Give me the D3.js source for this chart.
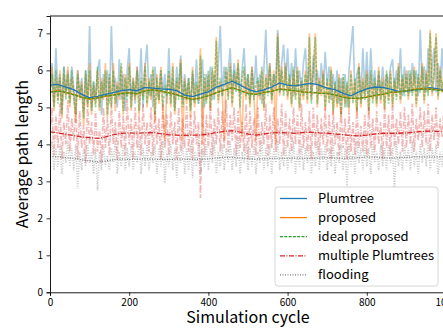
<!DOCTYPE html>
<html>
<head>
<meta charset="utf-8">
<script src="https://cdn.jsdelivr.net/npm/d3@7/dist/d3.min.js"></script>
<style>
  body { margin: 0; background: #fff; }
  text { font-family: "Noto Sans CJK JP", "DejaVu Sans", sans-serif; fill: #000; }
</style>
</head>
<body>
<div id="chart-area"></div>
<script>

// ########################################
// DATA
// ########################################

// raw samples, one every 5 cycles (0 .. 1000)
const rawCycles = d3.range(0, 1001, 5);

const plumtreeRaw = [
  5.6, 6.2, 5.1, 6.6, 5.3, 5.9, 4.9, 6.1, 5.4, 6.0,
  5.2, 6.1, 5.5, 5.0, 6.0, 5.3, 5.8, 4.9, 6.0, 5.1,
  7.2, 5.0, 5.7, 5.2, 6.0, 6.3, 4.8, 5.9, 5.3, 6.0,
  5.1, 7.2, 5.4, 5.8, 5.0, 6.3, 5.2, 5.9, 4.9, 6.0,
  6.6, 5.2, 5.8, 5.1, 6.1, 5.4, 6.6, 5.0, 6.1, 6.7,
  5.3, 5.9, 5.0, 6.1, 5.5, 5.2, 6.0, 5.4, 5.9, 5.1,
  6.6, 5.3, 5.8, 5.0, 6.1, 5.5, 6.4, 5.1, 5.9, 5.2,
  5.8, 5.0, 5.9, 5.3, 6.3, 5.1, 5.7, 6.3, 5.0, 5.9,
  5.4, 6.1, 5.2, 5.9, 5.5, 6.2, 7.2, 5.3, 6.1, 5.6,
  6.0, 6.6, 5.4, 6.2, 5.6, 6.1, 5.3, 6.0, 6.6, 5.5,
  5.9, 5.2, 6.1, 5.4, 6.4, 5.3, 5.9, 5.1, 6.0, 7.1,
  5.5, 6.2, 5.3, 5.9, 5.6, 7.1, 5.4, 6.2, 6.7, 5.6,
  6.6, 5.5, 6.2, 5.3, 6.6, 5.6, 6.0, 5.4, 6.2, 6.6,
  5.5, 6.1, 5.3, 6.4, 5.6, 6.0, 5.4, 6.2, 5.5, 6.5,
  5.6, 6.1, 5.2, 5.9, 5.4, 6.0, 5.1, 5.8, 5.3, 5.9,
  5.0, 6.0, 6.6, 7.2, 5.3, 5.9, 6.1, 5.2, 6.6, 5.4,
  6.5, 5.3, 6.6, 5.5, 6.0, 5.2, 5.9, 5.4, 6.1, 5.5,
  5.9, 5.6, 6.1, 6.3, 5.4, 6.0, 5.5, 6.6, 5.3, 6.1,
  5.5, 6.0, 5.4, 6.2, 5.6, 6.0, 5.3, 7.1, 5.5, 6.1,
  5.4, 6.6, 5.6, 6.1, 6.6, 5.4, 6.2, 5.5, 6.6, 5.6,
  5.5
];

const proposedRaw = [
  5.4, 6.1, 4.9, 5.8, 5.2, 6.0, 4.7, 5.9, 5.3, 6.1,
  5.0, 5.8, 5.4, 4.6, 6.0, 5.2, 5.7, 4.5, 5.9, 5.0,
  6.2, 4.8, 5.6, 5.1, 6.0, 4.9, 5.8, 5.2, 6.2, 4.7,
  5.8, 5.1, 6.2, 4.9, 5.7, 5.2, 6.1, 4.8, 5.9, 5.3,
  6.2, 4.9, 5.8, 5.2, 6.1, 4.8, 5.7, 5.3, 6.2, 5.0,
  5.8, 5.2, 6.0, 4.6, 5.9, 5.1, 6.1, 4.9, 4.1, 5.4,
  5.9, 5.0, 6.2, 4.8, 5.7, 5.3, 6.3, 4.1, 5.8, 5.1,
  5.7, 4.7, 6.1, 5.0, 5.6, 5.2, 6.6, 4.0, 5.8, 5.2,
  5.9, 4.9, 6.0, 5.3, 6.9, 5.1, 5.7, 5.4, 4.1, 6.0,
  5.3, 6.2, 5.0, 5.9, 5.5, 6.3, 4.9, 4.2, 6.0, 5.2,
  5.8, 5.0, 6.1, 5.3, 4.1, 5.7, 5.2, 6.0, 4.9, 5.9,
  5.4, 6.2, 5.1, 6.0, 4.0, 7.0, 5.3, 6.1, 5.4, 6.2,
  5.2, 5.8, 5.0, 6.0, 5.3, 6.1, 4.9, 5.7, 5.2, 6.0,
  5.1, 7.0, 5.2, 5.9, 7.0, 5.0, 5.8, 5.3, 6.0, 4.9,
  5.7, 5.2, 6.1, 4.8, 5.6, 5.0, 5.9, 4.7, 5.8, 5.1,
  5.6, 4.9, 6.0, 5.2, 5.7, 4.8, 6.2, 5.0, 5.8, 5.3,
  6.0, 4.8, 5.9, 5.2, 5.7, 5.0, 6.1, 5.1, 5.8, 4.9,
  5.9, 5.2, 6.0, 5.0, 5.7, 5.3, 6.2, 5.1, 5.8, 5.4,
  6.0, 5.2, 5.9, 5.4, 6.1, 5.0, 5.8, 5.5, 6.2, 5.1,
  6.0, 5.4, 7.1, 5.3, 5.9, 7.0, 5.2, 6.1, 5.4, 5.9,
  5.5
];

const idealRaw = [
  5.3, 5.9, 5.0, 6.0, 5.1, 5.8, 4.8, 6.1, 5.2, 5.9,
  5.1, 6.0, 5.2, 4.8, 5.9, 5.3, 5.6, 4.7, 6.0, 5.1,
  6.0, 4.9, 5.7, 5.0, 6.1, 5.0, 5.7, 5.3, 6.0, 4.8,
  5.9, 5.0, 6.0, 5.1, 5.6, 5.3, 6.2, 4.9, 5.8, 5.2,
  6.1, 5.0, 5.7, 5.3, 6.0, 4.9, 5.8, 5.2, 6.1, 5.1,
  5.7, 5.3, 6.1, 4.8, 5.8, 5.2, 6.0, 5.0, 5.6, 5.3,
  6.0, 5.1, 6.1, 4.9, 5.8, 5.2, 6.2, 5.0, 5.7, 5.2,
  5.8, 4.9, 6.0, 5.1, 5.7, 5.1, 6.4, 5.0, 5.9, 5.1,
  6.0, 5.0, 6.1, 5.2, 6.8, 5.2, 5.8, 5.3, 5.6, 6.1,
  5.2, 6.1, 5.1, 6.0, 5.4, 6.2, 5.0, 5.8, 6.1, 5.3,
  5.9, 5.1, 6.0, 5.2, 5.6, 5.8, 5.3, 6.1, 5.0, 5.8,
  5.3, 6.1, 5.2, 5.9, 5.5, 6.9, 5.4, 6.0, 5.3, 6.1,
  5.3, 5.9, 5.1, 6.1, 5.2, 6.0, 5.0, 5.8, 5.3, 5.9,
  5.2, 6.9, 5.1, 6.0, 6.9, 5.1, 5.7, 5.4, 5.9, 5.0,
  5.8, 5.1, 6.0, 4.9, 5.7, 5.1, 5.8, 4.8, 5.9, 5.0,
  5.7, 5.0, 5.9, 5.1, 5.8, 4.9, 6.1, 5.1, 5.7, 5.2,
  5.9, 4.9, 6.0, 5.1, 5.8, 5.1, 6.0, 5.2, 5.7, 5.0,
  6.0, 5.1, 5.9, 5.1, 5.8, 5.2, 6.1, 5.2, 5.9, 5.3,
  5.9, 5.3, 6.0, 5.3, 6.0, 5.1, 5.9, 5.4, 6.1, 5.2,
  5.9, 5.3, 7.0, 5.4, 6.0, 6.9, 5.3, 6.0, 5.5, 5.8,
  5.4
];

const multipleRaw = [
  4.3, 5.0, 3.7, 4.8, 3.9, 5.1, 3.6, 4.6, 4.0, 5.2,
  3.8, 4.7, 4.1, 5.0, 3.6, 4.9, 3.9, 4.5, 3.5, 5.1,
  4.0, 4.6, 3.7, 4.9, 3.8, 4.4, 3.5, 5.0, 3.9, 4.7,
  3.7, 5.1, 4.0, 4.6, 3.6, 4.9, 3.9, 4.8, 3.7, 5.2,
  4.0, 4.7, 3.6, 5.0, 3.9, 4.8, 3.7, 5.1, 4.0, 4.6,
  3.8, 5.0, 3.7, 4.9, 4.0, 4.7, 3.6, 5.1, 3.9, 4.8,
  3.7, 4.9, 4.0, 4.6, 3.6, 5.0, 3.8, 4.7, 3.9, 5.1,
  3.8, 4.8, 3.6, 4.9, 4.0, 4.6, 2.55, 5.0, 3.7, 4.8,
  3.9, 5.1, 3.7, 4.7, 4.0, 5.0, 3.8, 4.9, 3.9, 5.2,
  3.8, 4.8, 4.1, 5.0, 3.7, 4.9, 3.9, 4.6, 3.8, 5.1,
  3.6, 4.9, 3.9, 4.7, 3.7, 5.0, 3.8, 4.6, 4.0, 5.1,
  3.7, 4.8, 3.9, 5.0, 3.8, 4.7, 4.0, 5.1, 3.7, 4.9,
  3.9, 4.7, 3.8, 5.0, 4.0, 4.8, 3.7, 5.1, 3.9, 4.6,
  3.8, 4.9, 3.6, 5.0, 3.9, 4.8, 3.7, 4.7, 4.0, 5.0,
  3.8, 4.8, 3.6, 4.9, 4.0, 4.6, 3.7, 5.0, 3.9, 4.7,
  3.6, 4.9, 3.8, 4.6, 3.7, 5.0, 3.9, 4.5, 3.8, 4.8,
  3.7, 5.0, 3.9, 4.7, 3.8, 4.9, 4.0, 4.6, 3.6, 5.0,
  3.9, 4.8, 3.7, 5.1, 3.9, 4.7, 4.0, 4.9, 3.8, 5.0,
  3.9, 4.8, 4.0, 5.1, 3.8, 4.7, 4.1, 5.0, 3.9, 4.9,
  4.0, 5.1, 3.8, 4.8, 4.1, 5.0, 3.9, 4.7, 4.2, 5.0,
  4.4
];

const floodingRaw = [
  3.7, 4.1, 3.3, 3.9, 3.4, 4.0, 3.2, 3.8, 3.5, 4.1,
  3.4, 3.9, 3.3, 4.0, 2.8, 3.8, 3.3, 3.9, 3.4, 4.0,
  3.5, 3.8, 3.2, 3.9, 2.75, 3.8, 3.3, 4.0, 3.4, 3.7,
  3.3, 3.9, 3.5, 4.1, 3.2, 3.8, 3.4, 4.0, 3.3, 3.9,
  3.4, 4.0, 3.3, 3.8, 3.5, 4.1, 3.2, 3.9, 3.4, 4.0,
  3.3, 3.8, 3.5, 4.0, 3.2, 3.9, 3.4, 4.1, 2.95, 3.8,
  3.4, 4.0, 3.3, 3.9, 3.1, 3.8, 3.5, 4.1, 3.2, 3.9,
  3.3, 4.0, 3.1, 3.8, 3.4, 4.1, 3.2, 3.9, 3.4, 4.0,
  3.3, 3.9, 3.5, 4.1, 3.2, 3.8, 3.4, 4.0, 3.3, 3.9,
  3.5, 4.1, 3.3, 3.9, 3.4, 4.2, 3.2, 3.8, 3.5, 4.0,
  3.3, 3.9, 3.4, 4.0, 3.2, 3.8, 3.5, 4.1, 3.3, 3.9,
  3.4, 4.0, 3.2, 3.9, 3.5, 4.1, 3.3, 3.8, 3.4, 4.0,
  3.3, 3.9, 3.5, 4.1, 3.2, 3.8, 3.4, 4.0, 3.3, 3.9,
  3.5, 4.0, 3.2, 3.8, 3.4, 4.1, 3.3, 3.9, 3.5, 4.0,
  3.3, 3.9, 3.4, 4.1, 3.2, 3.8, 3.5, 4.0, 3.3, 3.9,
  2.85, 4.0, 3.4, 3.8, 3.2, 4.1, 3.5, 3.9, 3.3, 4.0,
  3.4, 3.9, 3.2, 4.1, 3.5, 3.8, 3.3, 4.0, 3.4, 3.9,
  3.3, 4.0, 3.5, 3.9, 2.8, 4.1, 3.4, 3.8, 3.3, 4.0,
  3.5, 3.9, 3.3, 4.1, 3.4, 3.8, 3.2, 4.0, 3.5, 3.9,
  3.4, 4.1, 3.3, 3.9, 3.5, 4.0, 3.2, 3.8, 3.4, 4.1,
  3.6
];

// moving averages, one every 20 cycles (0 .. 1000)
const smoothCycles = d3.range(0, 1001, 20);

const plumtreeAvg = [
  5.60, 5.62, 5.55, 5.48, 5.35, 5.26, 5.30, 5.35, 5.40, 5.45,
  5.48, 5.45, 5.54, 5.52, 5.50, 5.49, 5.45, 5.33, 5.29, 5.36,
  5.42, 5.55, 5.62, 5.71, 5.60, 5.49, 5.42, 5.47, 5.55, 5.66,
  5.60, 5.58, 5.62, 5.65, 5.60, 5.52, 5.48, 5.38, 5.31, 5.42,
  5.50, 5.55, 5.54, 5.49, 5.43, 5.44, 5.47, 5.49, 5.53, 5.50,
  5.45
];

const proposedAvg = [
  5.42, 5.45, 5.40, 5.35, 5.28, 5.22, 5.26, 5.30, 5.34, 5.38,
  5.40, 5.36, 5.45, 5.48, 5.44, 5.40, 5.35, 5.26, 5.22, 5.25,
  5.32, 5.40, 5.46, 5.54, 5.45, 5.38, 5.36, 5.40, 5.44, 5.50,
  5.48, 5.44, 5.42, 5.40, 5.39, 5.38, 5.33, 5.28, 5.25, 5.24,
  5.28, 5.32, 5.36, 5.40, 5.42, 5.45, 5.49, 5.51, 5.50, 5.47,
  5.45
];

const idealAvg = [
  5.41, 5.44, 5.41, 5.34, 5.27, 5.23, 5.25, 5.31, 5.33, 5.37,
  5.39, 5.37, 5.44, 5.47, 5.45, 5.39, 5.34, 5.27, 5.21, 5.26,
  5.31, 5.39, 5.47, 5.53, 5.46, 5.37, 5.35, 5.41, 5.43, 5.49,
  5.47, 5.45, 5.41, 5.41, 5.38, 5.37, 5.34, 5.27, 5.24, 5.25,
  5.27, 5.33, 5.35, 5.41, 5.41, 5.46, 5.48, 5.50, 5.49, 5.46,
  5.44
];

const multipleAvg = [
  4.34, 4.31, 4.27, 4.24, 4.20, 4.18, 4.16, 4.20, 4.26, 4.30,
  4.31, 4.30, 4.31, 4.32, 4.29, 4.26, 4.25, 4.24, 4.25, 4.25,
  4.28, 4.32, 4.35, 4.37, 4.33, 4.28, 4.25, 4.28, 4.31, 4.32,
  4.31, 4.30, 4.32, 4.33, 4.31, 4.30, 4.28, 4.26, 4.24, 4.23,
  4.25, 4.28, 4.30, 4.30, 4.30, 4.31, 4.33, 4.35, 4.36, 4.35,
  4.34
];

const floodingAvg = [
  3.67, 3.66, 3.64, 3.62, 3.58, 3.55, 3.53, 3.55, 3.58, 3.60,
  3.59, 3.60, 3.61, 3.60, 3.59, 3.59, 3.60, 3.60, 3.59, 3.60,
  3.61, 3.63, 3.65, 3.65, 3.63, 3.61, 3.60, 3.61, 3.62, 3.62,
  3.62, 3.63, 3.62, 3.62, 3.63, 3.64, 3.63, 3.62, 3.63, 3.64,
  3.66, 3.65, 3.64, 3.63, 3.64, 3.65, 3.66, 3.66, 3.66, 3.66,
  3.67
];

const xTicks = [0, 200, 400, 600, 800, 1000];
const yTicks = [0, 1, 2, 3, 4, 5, 6, 7];

// series styles, in legend order
const series = [
  { name: 'Plumtree',           raw: plumtreeRaw, avg: plumtreeAvg, color: '#1f77b4', dash: null,          rawAlpha: 0.36 },
  { name: 'proposed',           raw: proposedRaw, avg: proposedAvg, color: '#ff7f0e', dash: null,          rawAlpha: 0.45 },
  { name: 'ideal proposed',     raw: idealRaw,    avg: idealAvg,    color: '#2ca02c', dash: '3,1.3',       rawAlpha: 0.45 },
  { name: 'multiple Plumtrees', raw: multipleRaw, avg: multipleAvg, color: '#d62728', dash: '5,1.5,1,1.5', rawAlpha: 0.33 },
  { name: 'flooding',           raw: floodingRaw, avg: floodingAvg, color: '#7f7f7f', dash: '1,1.5',       rawAlpha: 0.42 }
];

// ########################################
// TARGET DOM, SET BOUNDARIES
// ########################################

const W = 443, H = 328;
const margin = { left: 50, top: 16 };
const plotRight = 446;      // axes run slightly past the window edge
const plotBottom = 292.3;

const svg = d3.select('#chart-area')
  .append('svg')
  .attr('width', W)
  .attr('height', H);

const x = d3.scaleLinear().domain([0, 1000]).range([margin.left, plotRight]);
const y = d3.scaleLinear().domain([0, 7.47]).range([plotBottom, margin.top]);

svg.append('clipPath').attr('id', 'plot-clip')
  .append('rect')
  .attr('x', margin.left).attr('y', margin.top)
  .attr('width', plotRight - margin.left).attr('height', plotBottom - margin.top);

const plot = svg.append('g').attr('clip-path', 'url(#plot-clip)');

// ########################################
// LINES
// ########################################

const rawLine = d3.line()
  .x((d, i) => x(rawCycles[i]))
  .y(d => y(d));

const avgLine = d3.line()
  .x((d, i) => x(smoothCycles[i]))
  .y(d => y(d));

// raw values first, light and dense
series.forEach(s => {
  plot.append('path')
    .attr('d', rawLine(s.raw))
    .attr('fill', 'none')
    .attr('stroke', s.color)
    .attr('stroke-opacity', s.rawAlpha)
    .attr('stroke-width', 1.7)
    .attr('stroke-linejoin', 'bevel')
    .attr('stroke-dasharray', s.dash);
});

// moving averages on top
series.forEach(s => {
  plot.append('path')
    .attr('d', avgLine(s.avg))
    .attr('fill', 'none')
    .attr('stroke', s.color)
    .attr('stroke-width', 1.3)
    .attr('stroke-dasharray', s.dash);
});

// ########################################
// AXES
// ########################################

const xAxisCall = d3.axisBottom(x)
  .tickValues(xTicks)
  .tickFormat(d3.format('d'))
  .tickSize(3.5)
  .tickPadding(3.5);
const xAxis = svg.append('g')
  .attr('transform', 'translate(0,' + plotBottom + ')')
  .call(xAxisCall);

const yAxisCall = d3.axisLeft(y)
  .tickValues(yTicks)
  .tickFormat(d3.format('d'))
  .tickSize(3.5)
  .tickPadding(3.5);
const yAxis = svg.append('g')
  .attr('transform', 'translate(' + margin.left + ',0)')
  .call(yAxisCall);

[xAxis, yAxis].forEach(a => {
  a.select('.domain').attr('stroke', '#000').attr('stroke-width', 0.9);
  a.selectAll('.tick line').attr('stroke', '#000').attr('stroke-width', 0.8);
  a.selectAll('.tick text').attr('font-size', '10px').attr('fill', '#000');
});

// top spine
svg.append('line')
  .attr('x1', margin.left).attr('x2', plotRight)
  .attr('y1', margin.top).attr('y2', margin.top)
  .attr('stroke', '#000').attr('stroke-width', 0.9);

// axis labels
svg.append('text')
  .attr('x', (margin.left + plotRight) / 2)
  .attr('y', 323)
  .attr('text-anchor', 'middle')
  .attr('font-size', '16px')
  .text('Simulation cycle');

svg.append('text')
  .attr('transform', 'translate(28,' + ((margin.top + plotBottom) / 2) + ') rotate(-90)')
  .attr('text-anchor', 'middle')
  .attr('font-size', '16px')
  .text('Average path length');

// ########################################
// LEGEND
// ########################################

const legend = svg.append('g').attr('transform', 'translate(275,187)');

legend.append('rect')
  .attr('width', 163).attr('height', 99)
  .attr('rx', 3)
  .attr('fill', '#fff').attr('fill-opacity', 0.8)
  .attr('stroke', '#ccc').attr('stroke-width', 0.8);

series.forEach((s, i) => {
  const cy = 11.5 + i * 19.1;
  legend.append('line')
    .attr('x1', 5).attr('x2', 32)
    .attr('y1', cy).attr('y2', cy)
    .attr('stroke', s.color)
    .attr('stroke-width', 1.3)
    .attr('stroke-dasharray', s.dash);
  legend.append('text')
    .attr('x', 43).attr('y', cy + 4.5)
    .attr('font-size', '13px')
    .text(s.name);
});

</script>
</body>
</html>
